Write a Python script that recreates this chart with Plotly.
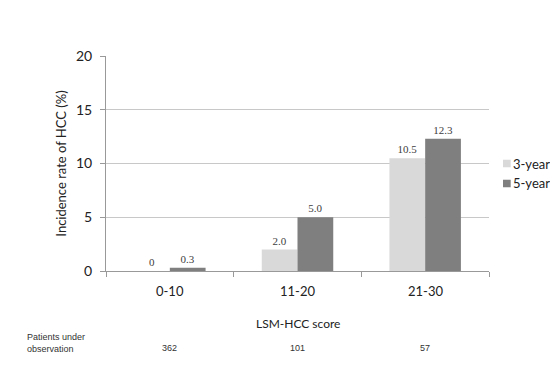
import plotly.graph_objects as go

categories = ["0-10", "11-20", "21-30"]
three_year = [0, 2.0, 10.5]
five_year = [0.3, 5.0, 12.3]
three_labels = ["0", "2.0", "10.5"]
five_labels = ["0.3", "5.0", "12.3"]
patients = [362, 101, 57]
series_names = ["3-year", "5-year"]
series_colors = ["#d9d9d9", "#7f7f7f"]

fig = go.Figure()
for name, vals, labels, color in zip(series_names, [three_year, five_year],
                                     [three_labels, five_labels], series_colors):
    fig.add_trace(go.Bar(
        x=categories, y=vals, name=name,
        marker=dict(color=color, line=dict(width=0)),
        text=labels, textposition="outside", cliponaxis=False,
        textfont=dict(family="Liberation Serif", size=11, color="#404040"),
    ))

# Patients row
for cat, n in zip(categories, patients):
    fig.add_annotation(x=cat, xref="x", y=-0.358, yref="paper", yanchor="middle", text=str(n),
                       showarrow=False, font=dict(family="Liberation Sans", size=9, color="#333333"))
fig.add_annotation(x=-0.2115, xref="paper", y=-0.333, yref="paper", yanchor="middle",
                   text="Patients under<br>observation",
                   showarrow=False, xanchor="left", align="left",
                   font=dict(family="Liberation Sans", size=9, color="#333333"))
# x axis title
fig.add_annotation(x=0.5, xref="paper", y=-0.242, yref="paper", yanchor="middle", text="LSM-HCC score",
                   showarrow=False, font=dict(family="Lato", size=12, color="#222222"))
# category labels
for cat in categories:
    fig.add_annotation(x=cat, xref="x", y=-0.093, yref="paper", yanchor="middle", text=cat,
                       showarrow=False, font=dict(family="Lato", size=13, color="#222222"))

# legend drawn manually (small square swatches)
leg_y = [0.5, 0.407]
for name, color, yc in zip(series_names, series_colors, leg_y):
    fig.add_shape(type="rect", xref="paper", yref="paper",
                  x0=1.0366, x1=1.0566, y0=yc - 0.0175, y1=yc + 0.0175,
                  fillcolor=color, line=dict(width=0))
    fig.add_annotation(x=1.0605, xref="paper", y=yc, yref="paper", xanchor="left", yanchor="middle",
                       text=name, showarrow=False, xshift=-1,
                       font=dict(family="Lato", size=13, color="#222222"))

fig.update_layout(
    width=558, height=367,
    margin=dict(l=98, r=77, t=48, b=104),
    paper_bgcolor="white", plot_bgcolor="white",
    barmode="group", bargap=0.44, bargroupgap=0,
    font=dict(family="Lato", color="#222222"),
    showlegend=False,
    xaxis=dict(
        showline=True, linecolor="#999999", linewidth=1,
        ticks="outside", ticklen=5, tickcolor="#999999",
        tickmode="array", tickvals=[-0.5, 0.5, 1.5, 2.5], ticktext=["", "", "", ""],
        range=[-0.5, 2.5], automargin=False,
    ),
    yaxis=dict(
        range=[0, 20], dtick=5, showgrid=True, gridcolor="#c8c8c8", gridwidth=1,
        showline=True, linecolor="#999999", linewidth=1,
        ticks="outside", ticklen=5, tickcolor="#999999",
        ticklabelstandoff=5,
        tickfont=dict(family="Lato", size=14, color="#222222"),
        title=dict(text="Incidence rate of HCC (%)", font=dict(family="Lato", size=13, color="#222222"), standoff=6),
        zeroline=False, automargin=False,
    ),
)

fig.write_html("out.html")
